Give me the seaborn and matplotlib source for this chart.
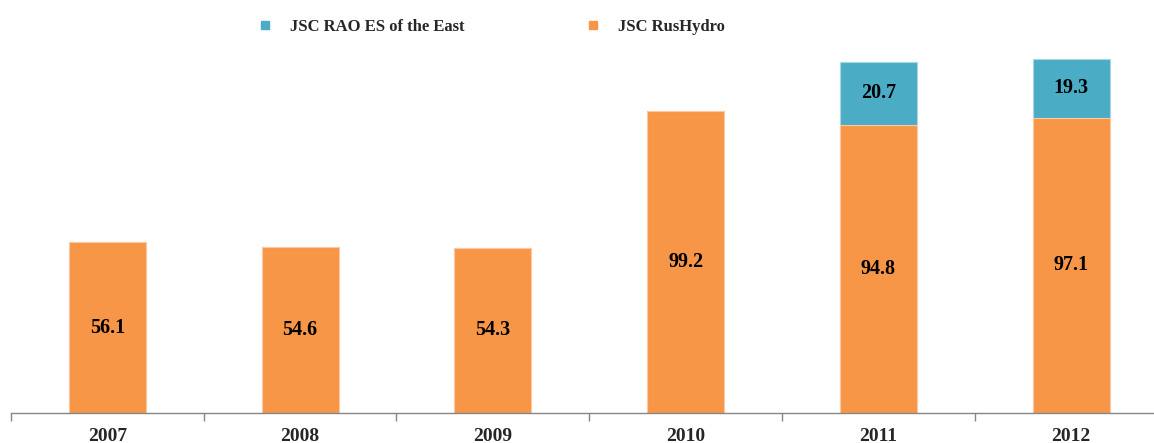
import matplotlib
matplotlib.use("Agg")
import matplotlib.pyplot as plt
import seaborn as sns
import numpy as np
import pandas as pd
from matplotlib.lines import Line2D

years = ["2007", "2008", "2009", "2010", "2011", "2012"]
rushydro = [56.1, 54.6, 54.3, 99.2, 94.8, 97.1]
rao_east = [0.0, 0.0, 0.0, 0.0, 20.7, 19.3]

series_names = ["JSC RAO ES of the East", "JSC RusHydro"]
ORANGE = "#F79646"
BLUE = "#4BACC6"

sns.set_theme(style="white")
plt.rcParams["font.family"] = ["Liberation Serif", "DejaVu Serif"]

df = pd.DataFrame({"year": years, "rushydro": rushydro, "rao_east": rao_east})
df["total"] = df["rushydro"] + df["rao_east"]

fig = plt.figure(figsize=(11.54, 4.43), dpi=100)
ax = fig.add_axes([11 / 1154, 30 / 443, 1 - 11 / 1154, 1 - 30 / 443 - 45 / 443])

sns.barplot(data=df, x="year", y="total", color=BLUE, width=0.4, ax=ax,
            edgecolor="#a9d6e3", linewidth=0.8, saturation=1)
sns.barplot(data=df, x="year", y="rushydro", color=ORANGE, width=0.4, ax=ax,
            edgecolor="#fbc9a3", linewidth=0.8, saturation=1)

for i, (o, b) in enumerate(zip(rushydro, rao_east)):
    ax.text(i, o / 2, f"{o:.1f}", ha="center", va="center",
            fontsize=14.5, fontweight="bold", color="black")
    if b > 0:
        ax.text(i, o + b / 2, f"{b:.1f}", ha="center", va="center",
                fontsize=14.5, fontweight="bold", color="black")

ax.set_ylim(0, 121)
ax.set_xlim(-0.5, 5.43)
ax.set_xlabel("")
ax.set_ylabel("")
ax.set_yticks([])
for s in ["top", "right", "left"]:
    ax.spines[s].set_visible(False)
ax.spines["bottom"].set_color("#868686")
ax.spines["bottom"].set_linewidth(1.0)

ax.set_xticks(range(len(years)))
ax.set_xticklabels(years, fontsize=14, fontweight="bold")
ax.tick_params(axis="x", which="major", length=0, pad=11)
ax.set_xticks(np.arange(-0.5, len(years) - 0.5, 1.0), minor=True)
ax.tick_params(axis="x", which="minor", length=6, color="#868686", width=1.0,
               direction="out", bottom=True)

handles = [Line2D([0], [0], marker="s", linestyle="", color=BLUE, markersize=6),
           Line2D([0], [0], marker="s", linestyle="", color=ORANGE, markersize=6)]
leg = fig.legend(handles, series_names, loc="center left", ncol=2,
                 bbox_to_anchor=(245 / 1154, 1 - 27 / 443), frameon=False,
                 prop={"weight": "bold", "size": 12},
                 handlelength=0.6, handletextpad=1.2, columnspacing=7.4)

fig.savefig("out.png", dpi=100)
